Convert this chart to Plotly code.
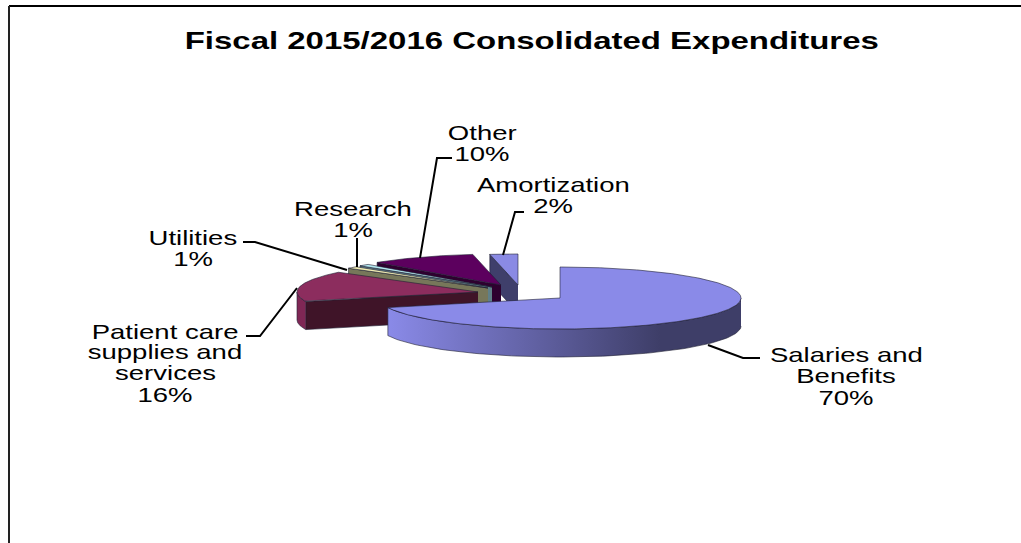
import numpy as np
import plotly.graph_objects as go

# --- data ---
categories = ["Salaries and Benefits", "Patient care supplies and services", "Utilities",
              "Research", "Other", "Amortization"]
values = [70.0, 16.0, 1.0, 1.0, 9.51, 2.49]
label_lines = [["Salaries and", "Benefits"], ["Patient care", "supplies and", "services"],
               ["Utilities"], ["Research"], ["Other"], ["Amortization"]]
title = "Fiscal 2015/2016 Consolidated Expenditures"

# --- styling and geometry (pixel space) ---
W, H = 1021, 543
A, B, DEPTH = 181, 31, 28
apex = [(560, 298), (478, 292), (488, 288), (492, 287), (501, 285), (518, 285)]
top_col = ["#8a8ae8", "#8c2d5e", "#f2eeb4", "#b4e8f0", "#5c005e", "#8a8ae4"]
face_col = ["#3e3e68", "#3f1428", "#77775a", "#5f7f88", "#2e002f", "#3f3f6b"]
side_col = ["#3e3e68", "#7f2755", "#77775a", "#5f7f88", "#2e002f", "#3f3f6b"]
EDGE = "rgba(30,30,50,0.75)"

label_pos = [(846, [354, 375, 397]), (165, [331, 351, 372, 394]), (193, [237, 258]),
             (353, [208, 229]), (482, [132, 153]), (553, [184, 205])]
leaders = [[(708, 345), (743, 358), (760, 358)], [(246, 336), (260, 336), (297, 288)],
           [(243, 242), (255, 242), (347, 270)], [(357, 238), (357, 267)],
           [(452, 158), (437, 158), (420, 258)], [(524, 212), (515, 212), (503, 255)]]

fig = go.Figure()


def rim(c, deg):
    t = np.radians(deg)
    return c[0] + A * np.sin(t), c[1] - B * np.cos(t)


def poly(xs, ys, color, **kw):
    fig.add_trace(go.Scatter(x=list(xs), y=list(ys), mode="lines", fill="toself",
                             fillcolor=color, line=dict(color=EDGE, width=0.8),
                             hoverinfo="skip", showlegend=False, **kw))


edges = np.concatenate([[0], np.cumsum(values)]) * 3.6

for i in reversed(range(len(values))):
    start, end, c = edges[i], edges[i + 1], apex[i]
    # outer wall, only the part that faces the viewer
    lo, hi = max(start, 90), min(end, 270)
    if hi > lo:
        th = np.linspace(lo, hi, 90)
        rx, ry = rim(c, th)
        xs = np.concatenate([rx, rx[::-1]])
        ys = np.concatenate([ry, ry[::-1] + DEPTH])
        if i == 0:
            poly(xs, ys, None, fillgradient=dict(
                type="horizontal",
                colorscale=[[0, "#8a8ae8"], [0.77, "#3e3e68"], [1, "#3e3e68"]]))
        else:
            poly(xs, ys, side_col[i])
    # cut face along the first edge of the slice
    if 180 < start < 360:
        rx, ry = rim(c, start)
        poly([c[0], rx, rx, c[0]], [c[1], ry, ry + DEPTH, c[1] + DEPTH], face_col[i])
    # top surface
    th = np.linspace(start, end, max(int(end - start) * 2, 6))
    rx, ry = rim(c, th)
    poly(np.r_[c[0], rx, c[0]], np.r_[c[1], ry, c[1]], top_col[i])

# leader lines
for path in leaders:
    fig.add_trace(go.Scatter(x=[p[0] for p in path], y=[p[1] for p in path], mode="lines",
                             line=dict(color="#000000", width=2), hoverinfo="skip", showlegend=False))

# labels
FONT = "Liberation Sans"
for lines, v, (cx, ys) in zip(label_lines, values, label_pos):
    for text, y in zip(lines + [f"{round(v)}%"], ys):
        fig.add_annotation(x=cx, y=y, text=text, showarrow=False, xanchor="center", yanchor="middle",
                           font=dict(family=FONT, size=21, color="#000000"))

fig.add_annotation(x=531.5, y=40, text=f"<b>{title}</b>", showarrow=False, xanchor="center",
                   yanchor="middle", font=dict(family=FONT, size=24, color="#000000"))

fig.update_layout(
    width=W, height=H, margin=dict(l=0, r=0, t=0, b=0), autosize=False,
    paper_bgcolor="white", plot_bgcolor="white", showlegend=False,
    xaxis=dict(range=[0, W], visible=False, fixedrange=True),
    yaxis=dict(range=[H, 0], visible=False, fixedrange=True),
    shapes=[
        dict(type="line", xref="x", yref="y", x0=9, y0=6, x1=W, y1=6, line=dict(color="#000000", width=2)),
        dict(type="line", xref="x", yref="y", x0=9, y0=6, x1=9, y1=H, line=dict(color="#222222", width=2)),
    ],
)
# The reference's lettering is horizontally stretched, so widen the real text; no page margin.
post = """
document.body.style.margin = '0';
document.body.style.overflow = 'hidden';
document.querySelectorAll('.annotation-text').forEach(function (t) {
    var w = t.getComputedTextLength();
    t.setAttribute('lengthAdjust', 'spacingAndGlyphs');
    t.setAttribute('textLength', w * (w > 400 ? 1.373 : 1.31));
});
"""
fig.write_html("out.html", config=dict(displayModeBar=False), post_script=post)
